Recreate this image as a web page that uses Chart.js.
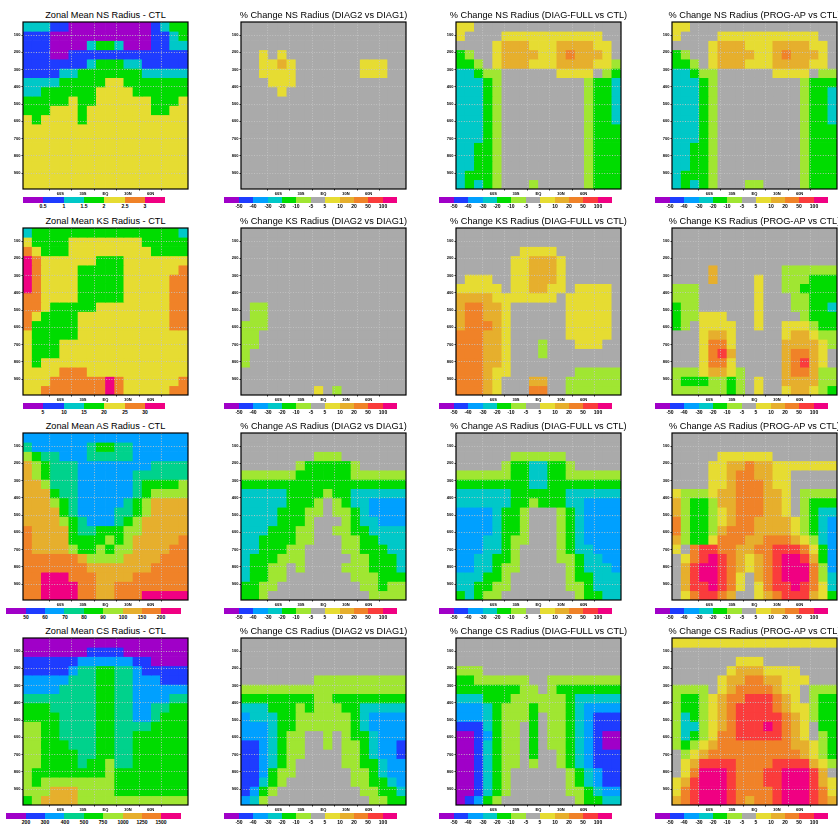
<!DOCTYPE html>
<html><head><meta charset="utf-8">
<script src="https://cdn.jsdelivr.net/npm/chart.js@4.4.1/dist/chart.umd.min.js"></script>
<style>
html,body{margin:0;padding:0;background:#fff;width:838px;height:824px;overflow:hidden;position:relative;font-family:"Liberation Sans",Arial,sans-serif}
canvas{position:absolute}
.title{position:absolute;height:12px;line-height:12px;font-size:9.2px;white-space:nowrap;text-align:center;color:#000;width:300px}
.cbar{position:absolute;display:flex}
.cbar div{flex:1 1 0;height:100%}
.cbl{position:absolute;font-weight:bold;font-size:10px;line-height:10px;white-space:nowrap;color:#000;transform:translate(-50%,0) scale(0.5);transform-origin:50% 0}
</style></head><body>
<script>
// ---------- axes ----------
const LAT_CENTERS = [-83.0,-73.2,-63.5,-53.7,-43.9,-34.2,-24.4,-14.6,-4.9,4.9,14.6,24.4,34.2,43.9,53.7,63.5,73.2,83.0];
const P_EDGES = [23.94,77.75,131.57,185.38,239.20,293.01,346.83,400.64,454.46,508.27,562.08,615.90,669.71,723.53,777.34,831.16,884.97,938.79,992.60];
const LAT_MIN = -87.86, LAT_MAX = 87.86;
const X_TICKS = [-60,-30,0,30,60];
const X_TICK_LABELS = ['60S','30S','EQ','30N','60N'];
const Y_TICKS = [100,200,300,400,500,600,700,800,900];

// ---------- contour levels ----------
const NS_LEVELS = [0.5,1,1.5,2,2.5,3];
const KS_LEVELS = [5,10,15,20,25,30];
const AS_LEVELS = [50,60,70,80,90,100,150,200];
const CS_LEVELS = [200,300,400,500,750,1000,1250,1500];
const PCT_LEVELS = [-50,-40,-30,-20,-10,-5,5,10,20,50,100];

const CTL7_COLORS = ['rgb(160,0,200)','rgb(30,60,255)','rgb(0,200,200)','rgb(0,220,0)','rgb(230,220,50)','rgb(240,130,40)','rgb(240,0,130)'];
const CTL9_COLORS = ['rgb(160,0,200)','rgb(30,60,255)','rgb(0,160,255)','rgb(0,210,140)','rgb(0,220,0)','rgb(160,230,50)','rgb(230,175,45)','rgb(240,130,40)','rgb(240,0,130)'];
const PCT_COLORS = ['rgb(160,0,200)','rgb(30,60,255)','rgb(0,160,255)','rgb(0,200,200)','rgb(0,220,0)','rgb(160,230,50)','rgb(170,170,170)','rgb(230,220,50)','rgb(230,175,45)','rgb(240,130,40)','rgb(250,60,60)','rgb(240,0,130)'];

// ---------- fields (rows: top level -> bottom level, columns: south -> north) ----------
const NS_CTL = [
[1.3,1.3,1.3,0.8,0.8,0.3,0.3,0.3,0.3,0.3,0.3,0.3,0.3,0.3,0.8,1.3,1.8,1.8],
[0.8,0.8,0.8,0.3,0.3,0.3,0.3,0.3,0.3,0.3,0.3,0.3,0.3,0.3,0.8,0.8,1.3,1.8],
[0.8,0.8,0.8,0.3,0.3,0.3,0.3,1.3,1.8,1.8,1.3,0.3,0.3,0.3,0.8,0.8,1.3,1.3],
[0.8,0.8,0.8,0.3,0.3,0.8,0.8,0.8,0.8,0.8,0.8,0.8,0.8,0.8,0.8,0.8,0.8,0.8],
[0.8,0.8,0.8,0.8,0.8,0.8,0.8,1.3,1.8,1.8,1.8,1.3,1.3,0.8,0.8,0.8,0.8,0.8],
[0.8,0.8,0.8,0.8,1.3,1.3,1.8,1.8,1.8,1.8,1.8,1.8,1.8,1.3,1.3,1.3,1.3,1.3],
[1.3,1.3,1.3,1.3,1.8,1.8,1.8,1.8,1.8,2.2,2.2,1.8,1.8,1.8,1.8,1.8,1.8,1.8],
[1.3,1.3,1.8,1.8,1.8,1.8,1.8,1.8,2.2,2.2,2.2,2.2,1.8,1.8,1.8,1.8,1.8,1.8],
[1.8,1.8,1.8,1.8,1.8,2.2,1.8,1.8,2.2,2.2,2.2,2.2,2.2,2.2,1.8,1.8,1.8,2.2],
[1.8,1.8,1.8,2.2,2.2,2.2,1.8,2.2,2.2,2.2,2.2,2.2,2.2,2.2,1.8,1.8,2.2,2.2],
[2.2,1.8,2.2,2.2,2.2,2.2,1.8,2.2,2.2,2.2,2.2,2.2,2.2,2.2,2.2,2.2,2.2,2.2],
[2.2,2.2,2.2,2.2,2.2,2.2,2.2,2.2,2.2,2.2,2.2,2.2,2.2,2.2,2.2,2.2,2.2,2.2],
[2.2,2.2,2.2,2.2,2.2,2.2,2.2,2.2,2.2,2.2,2.2,2.2,2.2,2.2,2.2,2.2,2.2,2.2],
[2.2,2.2,2.2,2.2,2.2,2.2,2.2,2.2,2.2,2.2,2.2,2.2,2.2,2.2,2.2,2.2,2.2,2.2],
[2.2,2.2,2.2,2.2,2.2,2.2,2.2,2.2,2.2,2.2,2.2,2.2,2.2,2.2,2.2,2.2,2.2,2.2],
[2.2,2.2,2.2,2.2,2.2,2.2,2.2,2.2,2.2,2.2,2.2,2.2,2.2,2.2,2.2,2.2,2.2,2.2],
[2.2,2.2,2.2,2.2,2.2,2.2,2.2,2.2,2.2,2.2,2.2,2.2,2.2,2.2,2.2,2.2,2.2,2.2],
[2.2,2.2,2.2,2.2,2.2,2.2,2.2,2.2,2.2,2.2,2.2,2.2,2.2,2.2,2.2,2.2,2.2,2.2]];

const NS_D2D1 = [
[0,0,0,0,0,0,0,0,0,0,0,0,0,0,0,0,0,0],
[0,0,0,0,0,0,0,0,0,0,0,0,0,0,0,0,0,0],
[0,0,0,0,0,0,0,0,0,0,0,0,0,0,0,0,0,0],
[0,0,7,0,7,0,0,0,0,0,0,0,0,0,0,0,0,0],
[0,0,7,7,15,7,0,0,0,0,0,0,0,7,7,7,0,0],
[0,0,7,7,7,7,0,0,0,0,0,0,0,7,7,7,0,0],
[0,0,0,7,7,7,0,0,0,0,0,0,0,0,0,0,0,0],
[0,0,0,0,7,0,0,0,0,0,0,0,0,0,0,0,0,0],
[0,0,0,0,0,0,0,0,0,0,0,0,0,0,0,0,0,0],
[0,0,0,0,0,0,0,0,0,0,0,0,0,0,0,0,0,0],
[0,0,0,0,0,0,0,0,0,0,0,0,0,0,0,0,0,0],
[0,0,0,0,0,0,0,0,0,0,0,0,0,0,0,0,0,0],
[0,0,0,0,0,0,0,0,0,0,0,0,0,0,0,0,0,0],
[0,0,0,0,0,0,0,0,0,0,0,0,0,0,0,0,0,0],
[0,0,0,0,0,0,0,0,0,0,0,0,0,0,0,0,0,0],
[0,0,0,0,0,0,0,0,0,0,0,0,0,0,0,0,0,0],
[0,0,0,0,0,0,0,0,0,0,0,0,0,0,0,0,0,0],
[0,0,0,0,0,0,0,0,0,0,0,0,0,0,0,0,0,0]];

const NS_FULL = [
[7,7,0,0,0,0,0,0,0,0,0,0,0,0,0,0,0,0],
[7,0,0,0,0,7,7,7,7,7,7,7,7,7,7,7,0,0],
[0,0,0,0,7,15,15,15,7,7,7,15,15,15,15,7,7,0],
[-15,-7,0,0,7,15,15,15,15,7,7,15,30,15,15,15,7,0],
[-15,-15,-7,0,7,15,15,15,7,7,7,15,15,15,15,7,7,-7],
[-25,-25,-15,-7,-7,0,0,0,0,0,0,7,7,7,7,0,-7,-15],
[-25,-25,-25,-15,-7,0,0,0,0,0,0,0,0,0,-7,-15,-15,-25],
[-25,-25,-25,-15,-7,0,0,0,0,0,0,0,0,0,-7,-15,-15,-25],
[-25,-25,-25,-15,-7,0,0,0,0,0,0,0,0,0,-7,-15,-15,-25],
[-25,-25,-25,-15,-7,0,0,0,0,0,0,0,0,0,-7,-15,-15,-25],
[-25,-25,-25,-15,-7,0,0,0,0,0,0,0,0,0,-7,-15,-15,-25],
[-25,-25,-25,-15,-7,0,0,0,0,0,0,0,0,0,-7,-15,-15,-15],
[-25,-25,-25,-15,-7,0,0,0,0,0,0,0,0,0,-7,-15,-15,-15],
[-25,-25,-15,-15,-7,0,0,0,0,0,0,0,0,0,-7,-15,-15,-15],
[-25,-25,-15,-15,-7,0,0,0,0,0,0,0,0,0,-7,-15,-15,-15],
[-25,-25,-15,-15,-7,0,0,0,0,0,0,0,0,0,-7,-15,-15,-15],
[-25,-15,-15,-15,-7,0,0,0,0,0,0,0,0,0,-7,-15,-15,-15],
[-25,-15,-25,-15,-7,0,0,0,-7,0,0,0,0,0,-7,-15,-15,-15]];

const NS_PROG = [
[7,7,0,0,0,0,0,0,0,0,0,0,0,0,0,0,0,0],
[7,0,0,0,0,7,7,7,7,7,7,7,7,7,7,7,0,0],
[0,0,0,0,7,15,15,15,7,7,7,15,15,15,15,7,7,0],
[-15,-7,0,0,7,15,15,15,15,7,7,15,30,15,15,15,7,0],
[-15,-15,-7,0,7,15,15,15,7,7,7,15,15,15,15,7,7,0],
[-25,-25,-15,-7,-7,0,0,0,0,0,0,7,7,7,7,0,-7,-7],
[-25,-25,-25,-15,-7,0,0,0,0,0,0,0,0,0,-7,-15,-15,-15],
[-25,-25,-25,-15,-7,0,0,0,0,0,0,0,0,0,-7,-15,-15,-25],
[-25,-25,-25,-15,-7,0,0,0,0,0,0,0,0,0,-7,-15,-15,-25],
[-25,-25,-25,-15,-7,0,0,0,0,0,0,0,0,0,-7,-15,-15,-25],
[-25,-25,-25,-15,-7,0,0,0,0,0,0,0,0,0,-7,-15,-15,-25],
[-25,-25,-25,-15,-7,0,0,0,0,0,0,0,0,0,-7,-15,-15,-15],
[-25,-25,-25,-15,-7,0,0,0,0,0,0,0,0,0,-7,-15,-15,-15],
[-25,-25,-15,-15,-7,0,0,0,0,0,0,0,0,0,-7,-15,-15,-15],
[-25,-25,-15,-15,-7,0,0,0,0,0,0,0,0,0,-7,-15,-15,-15],
[-25,-25,-15,-15,-7,0,0,0,0,0,0,0,0,0,-7,-15,-15,-15],
[-25,-15,-15,-15,-7,0,0,0,0,0,0,0,0,0,-7,-15,-15,-15],
[-25,-15,-25,-15,-7,0,0,0,-7,-7,0,0,0,0,-7,-15,-15,-15]];

const KS_CTL = [
[13,18,18,18,18,18,18,18,18,18,18,18,18,18,18,18,18,13],
[22,18,18,18,18,22,22,22,22,22,22,22,22,18,18,18,18,18],
[27,22,18,18,18,22,22,22,22,22,22,22,22,22,18,18,18,18],
[33,27,22,22,22,22,22,22,18,18,18,22,22,22,22,22,22,22],
[33,27,22,22,22,22,18,18,18,18,18,22,22,22,22,22,22,27],
[33,27,22,22,22,22,18,18,18,18,18,22,22,22,22,22,27,27],
[33,27,22,22,22,22,18,18,18,18,18,22,22,22,22,22,27,27],
[27,27,22,22,22,22,18,18,18,18,18,22,22,22,22,22,27,27],
[27,27,22,18,18,18,18,18,22,22,22,22,22,22,22,22,27,27],
[27,22,18,18,18,18,22,22,22,22,22,22,22,22,22,22,27,27],
[27,18,18,18,18,18,22,22,22,22,22,22,22,22,22,22,27,27],
[22,18,18,18,18,18,22,22,22,22,22,22,22,22,22,22,22,22],
[22,18,18,18,22,22,22,22,22,22,22,22,22,22,22,22,22,22],
[22,18,18,18,22,22,22,22,22,22,22,22,22,22,22,22,22,22],
[22,18,22,22,22,22,22,22,22,22,22,22,22,22,22,22,22,22],
[22,22,22,22,27,27,27,22,22,22,22,22,22,22,22,22,22,22],
[22,22,22,27,27,27,27,27,27,33,27,22,22,22,22,22,22,27],
[22,22,27,27,27,27,27,27,27,33,27,22,22,22,22,22,27,27]];

const KS_D2D1 = [
[0,0,0,0,0,0,0,0,0,0,0,0,0,0,0,0,0,0],
[0,0,0,0,0,0,0,0,0,0,0,0,0,0,0,0,0,0],
[0,0,0,0,0,0,0,0,0,0,0,0,0,0,0,0,0,0],
[0,0,0,0,0,0,0,0,0,0,0,0,0,0,0,0,0,0],
[0,0,0,0,0,0,0,0,0,0,0,0,0,0,0,0,0,0],
[0,0,0,0,0,0,0,0,0,0,0,0,0,0,0,0,0,0],
[0,0,0,0,0,0,0,0,0,0,0,0,0,0,0,0,0,0],
[0,0,0,0,0,0,0,0,0,0,0,0,0,0,0,0,0,0],
[0,-7,-7,0,0,0,0,0,0,0,0,0,0,0,0,0,0,0],
[0,-7,-7,0,0,0,0,0,0,0,0,0,0,0,0,0,0,0],
[-7,-7,-7,0,0,0,0,0,0,0,0,0,0,0,0,0,0,0],
[-7,-7,0,0,0,0,0,0,0,0,0,0,0,0,0,0,0,0],
[-7,-7,0,0,0,0,0,0,0,0,0,0,0,0,0,0,0,0],
[-7,0,0,0,0,0,0,0,0,0,0,0,0,0,0,0,0,0],
[-7,0,0,0,0,0,0,0,0,0,0,0,0,0,0,0,0,0],
[0,0,0,0,0,0,0,0,0,0,0,0,0,0,0,0,0,0],
[0,0,0,0,0,0,0,0,0,0,0,0,0,0,0,0,0,0],
[0,0,0,0,0,0,0,0,7,0,-7,0,0,0,0,0,0,0]];

const KS_FULL = [
[0,0,0,0,0,0,0,0,0,0,0,0,0,0,0,0,0,0],
[0,0,0,0,0,0,0,0,0,0,0,0,0,0,0,0,0,0],
[0,0,0,0,0,0,0,7,7,7,7,0,0,0,0,0,0,0],
[0,0,0,0,0,0,7,7,15,15,15,7,0,0,0,0,0,0],
[0,0,0,0,0,0,7,7,15,15,15,7,0,0,0,0,0,0],
[0,7,7,7,0,0,7,7,15,15,15,7,0,0,0,0,0,0],
[7,7,7,7,7,0,7,7,15,15,7,7,0,7,7,7,7,0],
[15,15,15,15,7,7,7,7,7,7,7,0,7,7,7,7,7,0],
[15,30,30,15,15,7,0,0,0,0,0,0,7,7,7,7,7,0],
[15,30,30,15,15,7,0,0,0,0,0,0,7,7,7,7,7,0],
[15,30,30,30,15,7,0,0,0,0,0,0,7,7,7,7,7,0],
[30,30,30,15,15,7,0,0,0,0,0,0,7,7,7,7,7,0],
[30,30,30,15,15,7,0,0,0,-7,0,0,0,7,7,7,0,0],
[30,30,30,15,15,7,0,0,0,-7,0,0,0,0,0,0,0,0],
[30,30,30,15,15,7,0,0,0,0,0,0,0,0,0,0,0,0],
[30,30,30,15,7,7,0,0,0,0,0,0,0,-7,-7,-7,-7,-7],
[30,30,30,15,7,0,0,0,15,15,0,0,-7,-7,-7,-7,-7,-7],
[30,30,30,15,7,0,0,0,30,30,0,0,-7,-7,-7,-7,-7,-7]];

const KS_PROG = [
[0,0,0,0,0,0,0,0,0,0,0,0,0,0,0,0,0,0],
[0,0,0,0,0,0,0,0,0,0,0,0,0,0,0,0,0,0],
[0,0,0,0,0,0,0,0,0,0,0,0,0,0,0,0,0,0],
[0,0,0,0,0,0,0,0,0,0,0,0,0,0,0,0,0,0],
[0,0,0,0,15,0,0,0,0,0,0,0,-7,-7,-7,-7,-7,-7],
[0,0,0,0,15,0,0,0,0,7,0,0,-7,-7,-7,-15,-15,-15],
[-7,-7,-7,0,0,0,0,0,0,7,0,0,-7,-7,-15,-15,-15,-15],
[-7,-7,-7,0,0,0,0,0,0,7,0,0,0,-7,-7,-15,-15,-15],
[-15,-7,-7,0,0,0,0,0,0,7,0,0,0,-7,-7,-15,-15,-25],
[-15,-7,-7,7,7,7,0,0,0,7,0,0,0,0,-7,-15,-15,-15],
[-15,-7,0,7,7,7,7,0,0,7,0,0,7,7,7,-7,-15,-15],
[0,0,0,7,15,15,7,0,0,0,0,0,7,15,15,7,-7,-7],
[0,0,0,7,30,30,7,0,0,0,0,0,15,15,15,15,7,-7],
[0,0,0,7,30,70,15,0,0,0,0,0,15,30,30,15,7,0],
[0,0,0,7,30,30,7,0,0,0,0,0,15,30,70,15,7,0],
[-7,-7,-7,7,15,15,7,-7,0,0,0,0,15,30,30,15,-7,-7],
[-7,-15,-15,-15,-7,-7,-15,-7,0,7,0,0,15,15,15,15,-7,-7],
[-7,-7,-7,-7,-7,-7,-15,-7,0,7,0,0,7,15,15,7,-7,-15]];

const AS_CTL = [
[65,65,65,65,65,65,65,65,65,65,65,65,65,65,65,65,65,65],
[75,65,65,65,65,65,65,75,85,85,75,75,65,65,65,65,65,65],
[95,85,75,75,65,65,65,75,75,75,75,75,65,65,65,65,65,65],
[120,95,85,75,75,75,65,65,65,65,65,65,65,65,75,75,75,75],
[120,95,85,75,75,75,65,65,65,65,65,65,75,75,75,75,75,75],
[120,120,95,75,75,75,65,65,65,65,65,65,75,85,85,85,85,95],
[120,120,120,85,75,75,65,65,65,65,65,65,75,85,95,95,95,95],
[120,120,120,95,85,75,65,65,65,65,65,75,85,95,120,120,120,120],
[120,120,120,120,85,75,65,65,65,65,75,75,85,95,120,120,120,120],
[120,120,120,120,95,85,75,65,65,65,75,85,95,120,120,120,120,120],
[170,120,120,120,120,85,75,75,85,85,85,95,95,120,120,120,120,120],
[170,120,120,120,120,85,85,85,85,95,85,95,120,120,120,120,120,170],
[170,120,120,120,120,95,85,85,95,85,95,95,120,120,120,120,170,170],
[170,170,170,170,170,170,120,95,95,95,95,120,120,120,120,170,170,170],
[170,170,170,170,170,170,170,120,120,120,120,120,120,120,170,170,170,170],
[170,170,230,230,230,170,170,170,120,120,120,120,170,170,170,170,170,170],
[170,170,230,230,230,230,170,170,120,120,170,170,170,170,170,170,170,170],
[170,170,230,230,230,230,170,170,120,120,170,170,170,230,230,230,230,230]];

const AS_D2D1 = [
[0,0,0,0,0,0,0,0,0,0,0,0,0,0,0,0,0,0],
[0,0,0,0,0,0,0,0,0,0,0,0,0,0,0,0,0,0],
[0,0,0,0,0,0,0,0,-7,-7,-7,0,0,0,0,0,0,0],
[0,0,0,0,0,0,-7,-15,-15,-15,-15,-15,-7,0,0,0,0,0],
[-7,-7,-7,-7,-7,-7,-15,-15,-15,-15,-15,-15,-7,-7,-7,-7,-7,-7],
[-15,-15,-15,-15,-15,-15,-15,-15,-15,-15,-15,-15,-15,-15,-15,-15,-15,-15],
[-25,-25,-25,-25,-25,-15,-15,-15,-15,-7,-15,-15,-25,-25,-25,-25,-25,-25],
[-25,-25,-25,-25,-25,-15,-15,-15,-7,0,-7,-15,-25,-25,-35,-35,-35,-35],
[-25,-25,-25,-25,-15,-15,-15,-7,-7,0,-7,-7,-15,-25,-35,-35,-35,-35],
[-25,-25,-25,-25,-15,-15,-15,-7,0,0,0,-7,-15,-25,-25,-35,-35,-35],
[-25,-25,-25,-15,-15,-15,-7,-7,0,0,-7,-7,-15,-15,-25,-25,-25,-25],
[-25,-25,-15,-15,-15,-15,-7,-7,0,0,0,-7,-7,-15,-15,-25,-25,-25],
[-25,-25,-15,-15,-15,-7,-7,0,0,0,0,-7,-7,-15,-15,-15,-25,-25],
[-25,-15,-15,-15,-7,-7,-7,0,0,0,0,0,-7,-7,-15,-15,-15,-25],
[-25,-15,-15,-7,-7,0,-7,0,0,0,0,-7,-7,-7,-15,-15,-15,-25],
[-25,-15,-15,-7,-7,0,0,0,0,0,0,0,-7,-7,-7,-15,-15,-15],
[-15,-15,-7,-7,0,0,0,0,0,0,0,0,0,-7,-7,-15,-7,-7],
[-15,-15,-7,0,0,0,0,0,0,0,0,0,0,0,-7,-7,-7,-7]];

const AS_FULL = [
[0,0,0,0,0,0,0,0,0,0,0,0,0,0,0,0,0,0],
[0,0,0,0,0,0,0,0,0,0,0,0,0,0,0,0,0,0],
[0,0,0,0,0,0,-7,-7,-7,-7,-7,-7,0,0,0,0,0,0],
[0,0,0,0,0,-7,-15,-15,-25,-25,-15,-15,-7,0,0,0,0,0],
[-7,-7,-7,-7,-7,-7,-15,-15,-25,-25,-15,-15,-7,-7,-7,-7,-7,-7],
[-15,-15,-15,-15,-15,-15,-15,-15,-25,-25,-15,-15,-15,-15,-15,-15,-15,-15],
[-25,-25,-25,-25,-25,-25,-15,-15,-15,-15,-15,-15,-25,-25,-25,-25,-25,-25],
[-25,-25,-25,-25,-25,-25,-15,-15,-7,-15,-15,-15,-25,-25,-35,-35,-35,-35],
[-35,-35,-35,-35,-25,-15,-15,-7,0,0,0,-7,-15,-25,-35,-35,-35,-35],
[-35,-35,-35,-35,-25,-15,-15,-7,0,0,0,-7,-15,-25,-35,-35,-35,-35],
[-35,-35,-35,-35,-25,-15,-15,-7,0,0,0,-7,-15,-25,-35,-35,-35,-35],
[-35,-35,-35,-25,-25,-15,-7,-7,0,0,0,-7,-15,-25,-35,-35,-35,-35],
[-35,-35,-35,-25,-25,-15,-7,0,0,0,0,-7,-15,-25,-25,-35,-35,-35],
[-35,-35,-25,-25,-15,-15,-7,0,0,0,0,-7,-7,-15,-25,-25,-35,-35],
[-35,-35,-25,-25,-15,-7,-7,0,0,0,0,0,-7,-15,-25,-25,-25,-35],
[-25,-25,-25,-15,-15,-7,0,0,0,0,0,0,-7,-15,-15,-25,-25,-25],
[-25,-25,-15,-15,-7,-7,0,0,0,0,0,0,-7,-7,-15,-25,-25,-25],
[-15,-25,-15,-7,-7,0,0,0,0,0,0,0,0,-7,-15,-15,-25,-25]];

const AS_PROG = [
[0,0,0,0,0,0,0,0,0,0,0,0,0,0,0,0,0,0],
[0,0,0,0,0,0,0,0,0,0,0,0,0,0,0,0,0,0],
[0,0,0,0,0,7,7,7,7,7,7,0,0,0,0,0,0,0],
[0,0,0,0,7,7,15,15,30,15,15,7,7,7,7,7,7,7],
[0,0,0,0,7,7,15,30,30,15,15,7,7,0,0,0,0,0],
[0,0,0,0,7,7,15,30,30,30,15,7,7,0,0,0,0,0],
[7,-7,-7,-7,7,15,15,30,30,30,15,15,7,0,-7,-7,-7,-7],
[15,-7,-15,-15,-7,15,15,30,30,30,15,15,7,0,-7,-15,-15,-15],
[15,-7,-15,-15,-7,7,15,30,30,30,15,15,7,0,-7,-15,-25,-25],
[30,-7,-15,-15,-7,7,15,30,30,15,15,15,15,7,-7,-15,-25,-35],
[30,-7,-15,-15,-7,15,30,30,30,15,15,15,15,7,-7,-15,-25,-35],
[15,-7,-15,-15,7,30,30,30,15,15,30,30,30,15,7,-7,-25,-35],
[7,0,30,70,70,30,30,15,15,30,30,70,70,70,30,7,-15,-35],
[0,7,30,70,150,70,30,15,7,15,30,70,150,150,70,15,-15,-35],
[0,15,70,150,150,70,30,15,7,15,30,70,150,150,150,30,-7,-35],
[0,15,70,150,150,70,30,7,0,15,30,70,150,150,150,30,-7,-25],
[0,15,70,70,150,70,30,7,0,7,30,70,70,150,70,30,7,-25],
[0,7,30,70,70,30,15,0,0,7,15,30,70,70,70,15,7,-15]];

const CS_CTL = [
[150,150,150,150,150,150,150,150,150,150,150,150,150,150,150,150,150,150],
[150,150,150,150,150,150,150,250,250,250,250,150,150,150,150,150,150,150],
[250,250,250,250,250,250,350,350,350,350,350,350,250,250,150,150,150,150],
[250,250,250,250,250,350,450,450,600,600,450,450,350,250,250,250,250,250],
[350,350,350,350,350,450,450,450,600,600,450,450,350,350,350,250,250,250],
[350,350,350,350,450,450,450,450,600,600,450,450,350,350,350,350,350,350],
[450,450,450,450,450,450,450,450,600,600,450,450,350,350,350,350,450,450],
[600,600,600,450,450,450,450,450,600,600,450,450,350,350,450,450,600,600],
[600,600,600,600,450,450,450,450,600,600,450,450,350,350,450,600,600,600],
[850,850,600,600,450,450,450,450,600,600,450,450,450,450,600,600,600,600],
[850,850,600,600,450,450,450,450,600,600,450,450,600,600,600,600,600,600],
[850,850,600,600,600,450,450,450,600,600,450,450,600,600,600,600,600,600],
[850,850,600,600,600,600,450,450,600,600,450,450,600,600,600,600,600,600],
[850,850,600,600,600,600,450,600,600,850,450,450,600,600,600,600,600,600],
[850,600,600,600,600,600,600,600,600,850,600,600,600,600,600,600,600,600],
[850,600,850,850,850,850,850,850,850,850,600,600,600,600,600,600,600,600],
[850,850,850,1100,1100,1100,850,850,850,850,600,600,600,600,600,600,600,600],
[600,850,1100,1100,1100,1100,850,850,850,850,850,850,850,850,850,850,850,850]];

const CS_D2D1 = [
[0,0,0,0,0,0,0,0,0,0,0,0,0,0,0,0,0,0],
[0,0,0,0,0,0,0,0,0,0,0,0,0,0,0,0,0,0],
[0,0,0,0,0,0,0,0,0,0,0,0,0,0,0,0,0,0],
[0,0,0,0,0,0,0,0,0,0,0,0,0,0,0,0,0,0],
[0,0,0,0,0,0,0,0,-7,-7,-7,-7,-7,-7,-7,-7,-7,-7],
[-7,-7,-7,-7,-7,-7,-7,-7,-7,-7,-7,-7,-7,-7,-7,-7,-7,-7],
[-15,-15,-15,-15,-15,-15,-15,-15,-7,-7,-15,-15,-15,-15,-15,-15,-15,-15],
[-25,-25,-25,-15,-15,-15,-7,-15,-7,-7,-7,-15,-15,-25,-25,-25,-25,-25],
[-35,-25,-25,-25,-15,-15,-7,-7,-7,-7,-7,-7,-15,-25,-35,-35,-35,-35],
[-35,-35,-35,-25,-15,-15,-7,-7,-7,-7,-7,-7,-15,-25,-35,-35,-35,-35],
[-35,-35,-35,-25,-15,-7,-7,0,0,-7,0,-7,-15,-15,-25,-35,-35,-35],
[-45,-45,-35,-25,-15,-7,-7,0,0,-7,0,-7,-7,-15,-25,-35,-35,-45],
[-45,-45,-35,-25,-15,-7,-7,0,0,0,0,-7,-7,-15,-25,-35,-35,-45],
[-45,-45,-35,-25,-15,-7,0,0,0,0,0,-7,-7,-15,-15,-25,-35,-35],
[-45,-45,-35,-15,-7,-7,0,0,0,0,0,0,-7,-7,-15,-25,-35,-35],
[-45,-45,-25,-15,-7,0,0,0,0,0,0,0,-7,-7,-15,-15,-25,-35],
[-45,-35,-15,-7,0,0,0,0,0,0,0,0,0,-7,-7,-15,-15,-25],
[-35,-25,-7,0,0,0,0,0,0,0,0,0,0,0,-7,-7,-15,-15]];

const CS_FULL = [
[0,0,0,0,0,0,0,0,0,0,0,0,0,0,0,0,0,0],
[0,0,0,0,0,0,0,0,0,0,0,0,0,0,0,0,0,0],
[0,0,0,0,0,0,0,0,0,0,0,0,0,0,0,0,0,0],
[-7,-7,-7,0,0,0,0,0,0,0,0,0,0,0,0,0,0,0],
[-15,-15,-7,-7,-7,-7,-7,-7,0,0,-7,-7,-7,-7,-7,-7,-7,-7],
[-15,-15,-15,-15,-15,-15,-15,-7,-7,0,-7,-15,-15,-15,-15,-15,-15,-15],
[-25,-25,-25,-15,-15,-15,-7,-7,-7,-7,-7,-7,-15,-25,-25,-25,-25,-25],
[-35,-35,-35,-25,-15,-7,-7,-7,-15,-7,-7,-7,-15,-25,-35,-35,-35,-35],
[-35,-35,-35,-25,-15,-7,-7,-7,-15,0,-7,-7,-15,-25,-35,-45,-45,-45],
[-45,-45,-45,-25,-15,-7,-7,0,-15,0,-7,-7,-15,-25,-35,-45,-45,-45],
[-60,-60,-45,-35,-15,-7,-7,0,-15,0,-7,-7,-15,-25,-35,-45,-60,-60],
[-60,-60,-45,-25,-15,-7,-7,0,-15,0,-7,-7,-15,-25,-35,-45,-60,-60],
[-60,-60,-45,-25,-15,-7,-7,0,-15,0,0,-7,-15,-25,-35,-45,-45,-45],
[-60,-60,-45,-25,-15,-7,-7,0,-7,0,0,-7,-15,-25,-35,-45,-45,-45],
[-60,-60,-45,-25,-15,-7,0,0,0,0,0,0,-7,-15,-25,-35,-45,-45],
[-60,-60,-45,-25,-15,-7,0,0,0,0,0,0,-7,-15,-25,-35,-45,-45],
[-60,-60,-45,-25,-15,-7,0,0,0,0,0,0,-7,-7,-15,-25,-35,-35],
[-60,-45,-35,-15,-7,0,0,0,0,0,0,0,0,-7,-15,-15,-25,-25]];

const CS_PROG = [
[7,7,7,7,7,7,7,7,7,7,7,7,7,7,7,7,7,7],
[0,0,0,0,0,0,0,0,0,0,0,0,0,0,0,0,0,0],
[0,0,0,0,0,0,0,7,7,7,0,0,0,0,0,0,0,0],
[0,0,0,0,0,0,7,15,15,15,7,7,7,7,0,0,0,0],
[0,0,0,0,0,7,15,15,30,30,15,15,7,7,7,0,0,0],
[-7,-7,-7,-7,0,7,15,30,30,30,30,15,7,7,0,-7,-7,-7],
[-7,-15,-15,-7,7,15,30,30,70,70,70,30,15,7,0,-7,-15,-15],
[-7,-15,-15,-7,7,15,30,70,70,70,70,30,15,7,7,-7,-15,-15],
[-7,-25,-15,-7,7,15,30,70,70,70,70,70,30,15,7,-7,-15,-15],
[-7,-25,-25,-7,7,15,30,70,70,70,150,70,30,15,7,0,-15,-15],
[-7,-25,-15,-7,7,30,30,70,70,70,70,70,30,15,7,0,-7,-15],
[-7,-15,-7,7,15,30,30,30,30,30,30,30,30,15,15,7,-7,-15],
[0,-7,7,15,30,30,30,30,30,30,30,30,30,30,15,7,-7,-15],
[0,7,15,70,70,70,70,30,30,30,30,70,70,70,70,15,7,-7],
[0,7,30,150,150,150,70,30,30,30,70,70,150,150,150,70,15,0],
[7,15,70,150,150,150,70,30,30,30,70,70,150,150,150,70,15,7],
[7,30,70,150,150,150,70,30,30,30,30,70,150,150,150,70,30,7],
[15,30,70,150,150,150,70,30,15,30,30,70,150,150,150,70,30,15]];

// ---------- panel list ----------
const PANELS = [
 [['Zonal Mean NS Radius - CTL',NS_CTL,NS_LEVELS,CTL7_COLORS],['% Change NS Radius (DIAG2 vs DIAG1)',NS_D2D1],['% Change NS Radius (DIAG-FULL vs CTL)',NS_FULL],['% Change NS Radius (PROG-AP vs CTL)',NS_PROG]],
 [['Zonal Mean KS Radius - CTL',KS_CTL,KS_LEVELS,CTL7_COLORS],['% Change KS Radius (DIAG2 vs DIAG1)',KS_D2D1],['% Change KS Radius (DIAG-FULL vs CTL)',KS_FULL],['% Change KS Radius (PROG-AP vs CTL)',KS_PROG]],
 [['Zonal Mean AS Radius - CTL',AS_CTL,AS_LEVELS,CTL9_COLORS],['% Change AS Radius (DIAG2 vs DIAG1)',AS_D2D1],['% Change AS Radius (DIAG-FULL vs CTL)',AS_FULL],['% Change AS Radius (PROG-AP vs CTL)',AS_PROG]],
 [['Zonal Mean CS Radius - CTL',CS_CTL,CS_LEVELS,CTL9_COLORS],['% Change CS Radius (DIAG2 vs DIAG1)',CS_D2D1],['% Change CS Radius (DIAG-FULL vs CTL)',CS_FULL],['% Change CS Radius (PROG-AP vs CTL)',CS_PROG]]
];

// ---------- layout ----------
const COL_LEFT = [23, 241, 456, 672];
const ROW_TOP = [22, 228, 433, 638];
const PLOT_W = 165, PLOT_H = 167;
const Y_AXIS_W = 22, X_AXIS_H = 8, PAD_TOP = 5, PAD_RIGHT = 2;
const GRID_COLOR = 'rgba(196,196,196,0.95)';
const TICK_FONT = {family:'Liberation Sans', size:4, weight:'bold'};

function colorFor(v, levels, colors){
  let i = 0;
  while (i < levels.length && v > levels[i]) i++;
  return colors[i];
}

const framePlugin = {
  id:'frame',
  afterDraw(chart){
    const {ctx, chartArea:a} = chart;
    ctx.save();
    ctx.strokeStyle = '#000';
    ctx.lineWidth = 1.2;
    ctx.strokeRect(a.left, a.top, a.right - a.left, a.bottom - a.top);
    ctx.restore();
  }
};

function addTitle(text, L, T){
  const d = document.createElement('div');
  d.className = 'title';
  d.textContent = text;
  d.style.left = (L + PLOT_W/2 - 150) + 'px';
  d.style.top = (T - 13) + 'px';
  document.body.appendChild(d);
}

function addColorbar(levels, colors, left, top, width, height){
  const bar = document.createElement('div');
  bar.className = 'cbar';
  bar.style.left = left + 'px'; bar.style.top = top + 'px';
  bar.style.width = width + 'px'; bar.style.height = height + 'px';
  colors.forEach(c => { const b = document.createElement('div'); b.style.background = c; bar.appendChild(b); });
  document.body.appendChild(bar);
  const n = colors.length;
  levels.forEach((lv, k) => {
    const s = document.createElement('span');
    s.className = 'cbl';
    s.textContent = String(lv);
    s.style.left = (left + (k + 1) * width / n) + 'px';
    s.style.top = (top + height + 0.2) + 'px';
    document.body.appendChild(s);
  });
}

function makePanel(title, values, levels, colors, row, col){
  const L = COL_LEFT[col], T = ROW_TOP[row];
  addTitle(title, L, T);
  const cv = document.createElement('canvas');
  const cw = Y_AXIS_W + PLOT_W + PAD_RIGHT, ch = PAD_TOP + PLOT_H + X_AXIS_H;
  cv.width = cw; cv.height = ch;
  cv.style.width = cw + 'px'; cv.style.height = ch + 'px';
  cv.style.left = (L - Y_AXIS_W) + 'px'; cv.style.top = (T - PAD_TOP) + 'px';
  document.body.appendChild(cv);

  const datasets = values.map((rowVals, r) => ({
    data: LAT_CENTERS.map(() => [P_EDGES[r], P_EDGES[r + 1]]),
    backgroundColor: rowVals.map(v => colorFor(v, levels, colors)),
    borderWidth: 0, grouped: false, barPercentage: 1, categoryPercentage: 1
  }));

  const gridOpts = {z:1, color:GRID_COLOR, lineWidth:0.9, drawTicks:true, tickLength:1.5, tickColor:'#000', tickWidth:0.8};
  new Chart(cv, {
    type:'bar',
    data:{labels:LAT_CENTERS, datasets},
    plugins:[framePlugin],
    options:{
      responsive:false, animation:false, events:[],
      layout:{padding:{top:PAD_TOP, left:0, right:PAD_RIGHT, bottom:0}},
      plugins:{legend:{display:false}, tooltip:{enabled:false}, title:{display:false}},
      scales:{
        x:{type:'category', display:false, offset:true, grid:{display:false}},
        x2:{type:'linear', position:'bottom', min:LAT_MIN, max:LAT_MAX,
            afterBuildTicks:s => { s.ticks = X_TICKS.map(v => ({value:v})); },
            afterFit:s => { s.height = X_AXIS_H; },
            ticks:{callback:(v, i) => X_TICK_LABELS[i], font:TICK_FONT, color:'#000', padding:0.5, maxRotation:0, autoSkip:false},
            grid:gridOpts, border:{display:false, dash:[1,1.6]}},
        y:{type:'linear', reverse:true, min:P_EDGES[0], max:P_EDGES[P_EDGES.length - 1],
           afterBuildTicks:s => { s.ticks = Y_TICKS.map(v => ({value:v})); },
           afterFit:s => { s.width = Y_AXIS_W; },
           ticks:{font:TICK_FONT, color:'#000', padding:1, autoSkip:false},
           grid:gridOpts, border:{display:false, dash:[1,1.6]}}
      }
    }
  });

  // colour bar
  const top = T + PLOT_H + 8;
  if (col === 0) {
    if (colors.length === 7) addColorbar(levels, colors, L, top, 142.4, 6.3);
    else addColorbar(levels, colors, L - 16.6, top, 174.3, 6.3);
  } else {
    addColorbar(PCT_LEVELS, PCT_COLORS, L - 16.7, top, 172.8, 6.3);
  }
}

PANELS.forEach((rowPanels, row) => {
  rowPanels.forEach((p, col) => {
    const levels = col === 0 ? p[2] : PCT_LEVELS;
    const colors = col === 0 ? p[3] : PCT_COLORS;
    makePanel(p[0], p[1], levels, colors, row, col);
  });
});
</script>
</body></html>
